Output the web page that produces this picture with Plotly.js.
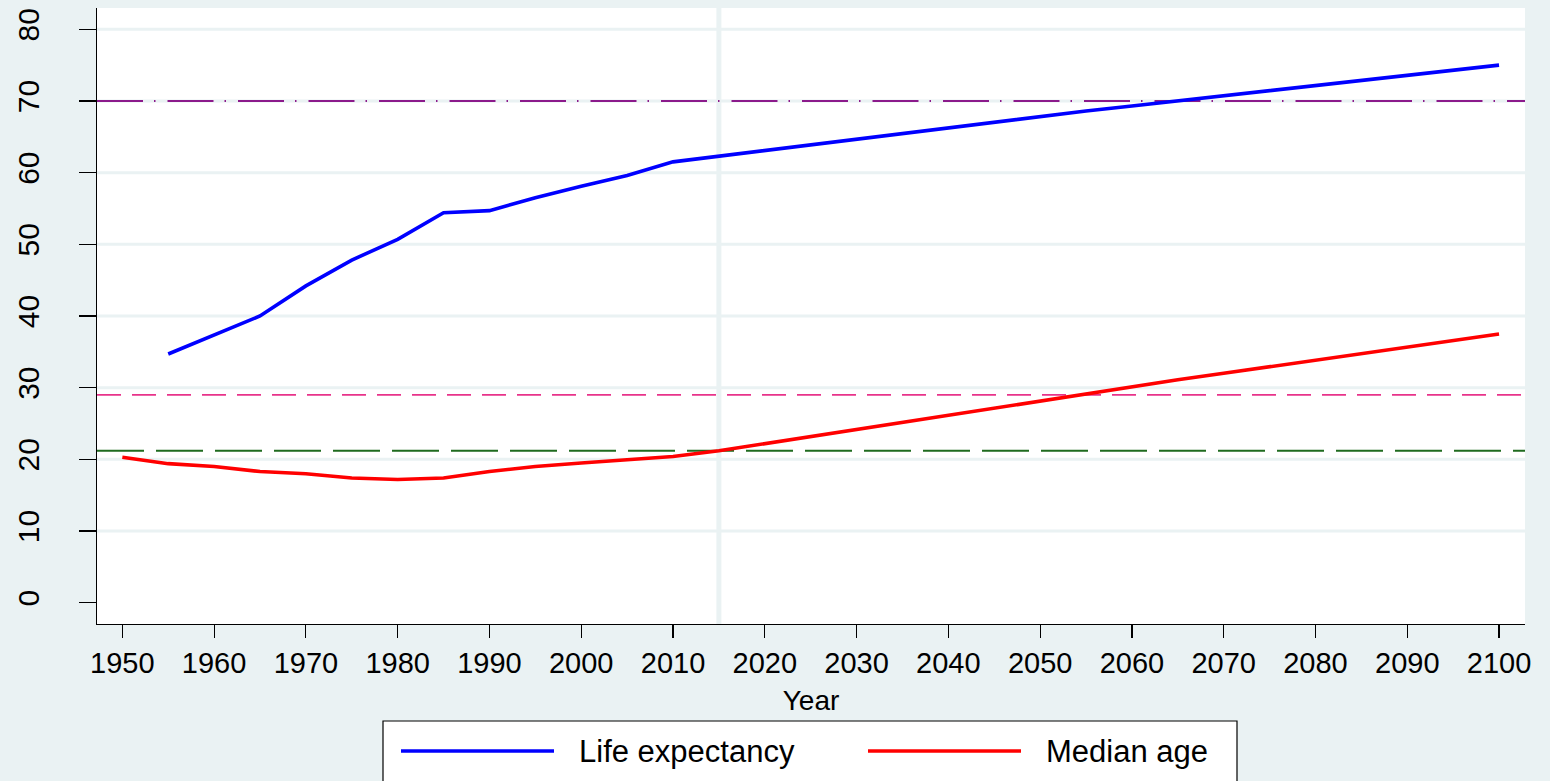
<!DOCTYPE html>
<html>
<head>
<meta charset="utf-8">
<script src="https://cdn.plot.ly/plotly-3.0.1.min.js"></script>
<style>
html,body{margin:0;padding:0;background:#EAF2F3;}
#chart{width:1550px;height:781px;}
</style>
</head>
<body>
<div id="chart"></div>
<script>
// ---- data ----
const years = [1950,1955,1960,1965,1970,1975,1980,1985,1990,1995,2000,2005,2010,2015,2020,2025,2030,2035,2040,2045,2050,2055,2060,2065,2070,2075,2080,2085,2090,2095,2100];
const lifeExpectancy = [null,34.7,37.3,40.0,44.2,47.8,50.7,54.4,54.7,56.5,58.1,59.6,61.5,62.3,63.1,63.9,64.7,65.5,66.3,67.1,67.8,68.6,69.3,70.0,70.7,71.4,72.1,72.8,73.5,74.3,75.0];
const medianAge = [20.3,19.4,19.0,18.3,18.0,17.4,17.2,17.4,18.3,19.0,19.5,19.9,20.4,21.2,22.2,23.2,24.2,25.2,26.2,27.2,28.1,29.1,30.1,31.1,32.0,32.9,33.9,34.8,35.7,36.6,37.5];
const seriesNames = ["Life expectancy","Median age"];
const xTicks = [1950,1960,1970,1980,1990,2000,2010,2020,2030,2040,2050,2060,2070,2080,2090,2100];
const yTicks = [0,10,20,30,40,50,60,70,80];
const gridValues = [10,20,30,40,50,60,70,80];
const refLineYear = [2015];
const refLevels = [70, 29, 21.2];

// ---- styles ----
const bg = "#EAF2F3";
const font = "Liberation Sans, Arial, sans-serif";
const refStyles = [
  {color:"#8B1A8B", width:2, dash:"46px,11px,1.5px,12px"},
  {color:"#E8338A", width:1.8, dash:"24px,11px"},
  {color:"#1F6B1F", width:2, dash:"47px,12px"}
];
const seriesColors = ["#0000FF","#FF0000"];

const traces = [
  {x: years, y: lifeExpectancy, type:"scatter", mode:"lines", name: seriesNames[0],
   line:{color:seriesColors[0], width:3.6}, connectgaps:false, showlegend:false},
  {x: years, y: medianAge, type:"scatter", mode:"lines", name: seriesNames[1],
   line:{color:seriesColors[1], width:3.6}, showlegend:false}
];

const shapes = [];
gridValues.forEach(v => shapes.push({type:"line", xref:"paper", x0:0, x1:1, yref:"y", y0:v, y1:v,
  line:{color:bg, width:3}, layer:"below"}));
refLineYear.forEach(v => shapes.push({type:"line", xref:"x", x0:v, x1:v, yref:"paper", y0:0, y1:1,
  line:{color:bg, width:5}, layer:"below"}));
refLevels.forEach((v,i) => shapes.push({type:"line", xref:"paper", x0:0, x1:1, yref:"y", y0:v, y1:v,
  line:refStyles[i], layer:"below"}));

// ---- manual legend (paper coords: plot spans x 97..1525, y 8..624) ----
const L = 97, R = 1525, T = 8, B = 624;
const px = v => (v - L) / (R - L);
const py = v => (B - v) / (B - T);
shapes.push({type:"rect", xref:"paper", yref:"paper", x0:px(383), x1:px(1237), y0:py(721), y1:py(800),
  line:{color:"#000", width:1.2}, fillcolor:"#FFFFFF", layer:"above"});
shapes.push({type:"line", xref:"paper", yref:"paper", x0:px(401), x1:px(554), y0:py(751), y1:py(751),
  line:{color:seriesColors[0], width:3.6}});
shapes.push({type:"line", xref:"paper", yref:"paper", x0:px(868), x1:px(1021), y0:py(751), y1:py(751),
  line:{color:seriesColors[1], width:3.6}});
const annotations = [
  {xref:"paper", yref:"paper", x:px(577), y:py(751), xanchor:"left", yanchor:"middle",
   text: seriesNames[0], showarrow:false, font:{family:font, size:31, color:"#000"}},
  {xref:"paper", yref:"paper", x:px(1044), y:py(751), xanchor:"left", yanchor:"middle",
   text: seriesNames[1], showarrow:false, font:{family:font, size:31, color:"#000"}}
];

const layout = {
  width:1550, height:781,
  paper_bgcolor: bg, plot_bgcolor:"#FFFFFF",
  margin:{l:L, r:1550-R, t:T, b:781-B, pad:0},
  showlegend:false,
  font:{family:font, color:"#000"},
  xaxis:{
    range:[1947.24, 2102.83], tickmode:"array", tickvals:xTicks, ticktext:xTicks.map(String),
    showgrid:false, zeroline:false, showline:true, linecolor:"#000", linewidth:1.2,
    ticks:"outside", ticklen:13, tickwidth:1.2, tickcolor:"#000",
    tickfont:{family:font, size:29, color:"#000"}, ticklabelstandoff:0,
    title:{text:"Year", font:{family:font, size:28, color:"#000"}, standoff:12},
    automargin:false, fixedrange:true
  },
  yaxis:{
    range:[-2.97, 82.97], tickmode:"array", tickvals:yTicks, ticktext:yTicks.map(String),
    showgrid:false, zeroline:false, showline:true, linecolor:"#000", linewidth:1.2,
    ticks:"outside", ticklen:17, tickwidth:1.2, tickcolor:"#000", tickangle:-90,
    tickfont:{family:font, size:30, color:"#000"}, ticklabelstandoff:28,
    automargin:false, fixedrange:true
  },
  shapes: shapes,
  annotations: annotations
};

Plotly.newPlot("chart", traces, layout, {displayModeBar:false, staticPlot:true});
</script>
</body>
</html>
